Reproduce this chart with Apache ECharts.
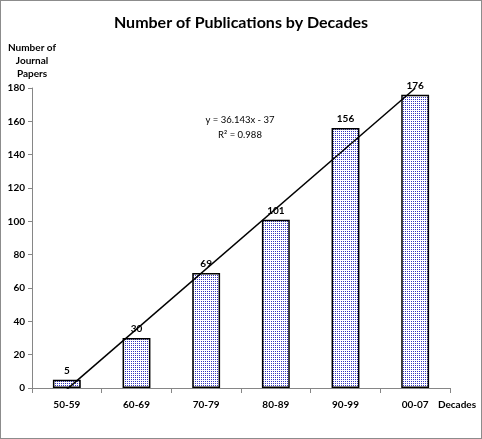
<!DOCTYPE html>
<html>
<head>
<meta charset="utf-8">
<script src="https://cdn.jsdelivr.net/npm/echarts@6/dist/echarts.min.js"></script>
<style>
  html, body { margin: 0; padding: 0; background: #fff; }
  .chart-box {
    width: 482px;
    height: 439px;
    border: 1px solid #8c8c8c;
    box-sizing: border-box;
  }
  #chart { width: 480px; height: 437px; }
</style>
</head>
<body>
<div class="chart-box"><div id="chart"></div></div>
<script>
// data
var decades = ['50-59', '60-69', '70-79', '80-89', '90-99', '00-07'];
var papers = [5, 30, 69, 101, 156, 176];
// Excel linear trendline end points (x = 1 and x = 6)
var trendEnds = [[0, -0.86], [5, 179.86]];
var trendText = ['y = 36.143x - 37', 'R² = 0.988'];
var yTicks = [0, 20, 40, 60, 80, 100, 120, 140, 160, 180];

var font = 'Lato, Open Sans, sans-serif';

// dotted fill like the Excel pattern
function dotPattern() {
  var c = document.createElement('canvas');
  c.width = 2;
  c.height = 2;
  var ctx = c.getContext('2d');
  ctx.fillStyle = '#ffffff';
  ctx.fillRect(0, 0, 2, 2);
  ctx.fillStyle = '#3434c0';
  ctx.fillRect(0, 0, 1, 1);
  return c;
}

var myChart = echarts.init(document.getElementById('chart'));
var option = {
  animation: false,
  title: {
    text: 'Number of Publications by Decades',
    left: 'center',
    top: 9,
    textStyle: { fontFamily: font, fontSize: 16, fontWeight: 'bold', color: '#000' }
  },
  grid: { left: 31, right: 31, top: 87, bottom: 50, outerBoundsMode: 'none', containLabel: false },
  xAxis: {
    type: 'category',
    data: decades,
    name: 'Decades',
    nameLocation: 'end',
    nameGap: 7,
    nameTextStyle: { fontFamily: font, fontSize: 10, fontWeight: 'bold', color: '#000', align: 'center', verticalAlign: 'top', padding: [12, 0, 0, 0] },
    axisLine: { lineStyle: { color: '#868686', width: 1 } },
    axisTick: { show: true, length: 5, lineStyle: { color: '#868686' } },
    axisLabel: { fontFamily: font, fontSize: 10, fontWeight: 'bold', color: '#000', margin: 12 }
  },
  yAxis: {
    type: 'value',
    min: 0,
    max: 180,
    interval: 20,
    name: 'Number of\nJournal\nPapers',
    nameLocation: 'end',
    nameGap: 8,
    nameTextStyle: { fontFamily: font, fontSize: 10, fontWeight: 'bold', color: '#000', align: 'center', lineHeight: 13 },
    axisLine: { show: true, lineStyle: { color: '#868686', width: 1 } },
    axisTick: { show: true, length: 4, lineStyle: { color: '#868686' } },
    axisLabel: {
      fontFamily: font, fontSize: 10, fontWeight: 'bold', color: '#000', margin: 7,
      formatter: function (v) { return yTicks.indexOf(v) > -1 ? String(v) : ''; }
    },
    splitLine: { show: false }
  },
  series: [
    {
      type: 'bar',
      data: papers,
      barWidth: '40%',
      itemStyle: {
        color: { image: dotPattern(), repeat: 'repeat' },
        borderColor: '#000',
        borderWidth: 1.5
      },
      label: {
        show: true,
        position: 'top',
        distance: 4,
        fontFamily: font, fontSize: 10, fontWeight: 'bold', color: '#000'
      }
    },
    {
      type: 'line',
      data: trendEnds,
      showSymbol: false,
      symbol: 'none',
      clip: true,
      lineStyle: { color: '#000', width: 1.5 },
      z: 5
    }
  ],
  graphic: [
    {
      type: 'text',
      x: 239,
      y: 111,
      style: { text: trendText.join('\n'), fontFamily: font, fontSize: 9.5, fill: '#000', align: 'center', lineHeight: 15 }
    }
  ]
};
myChart.setOption(option);
</script>
</body>
</html>
